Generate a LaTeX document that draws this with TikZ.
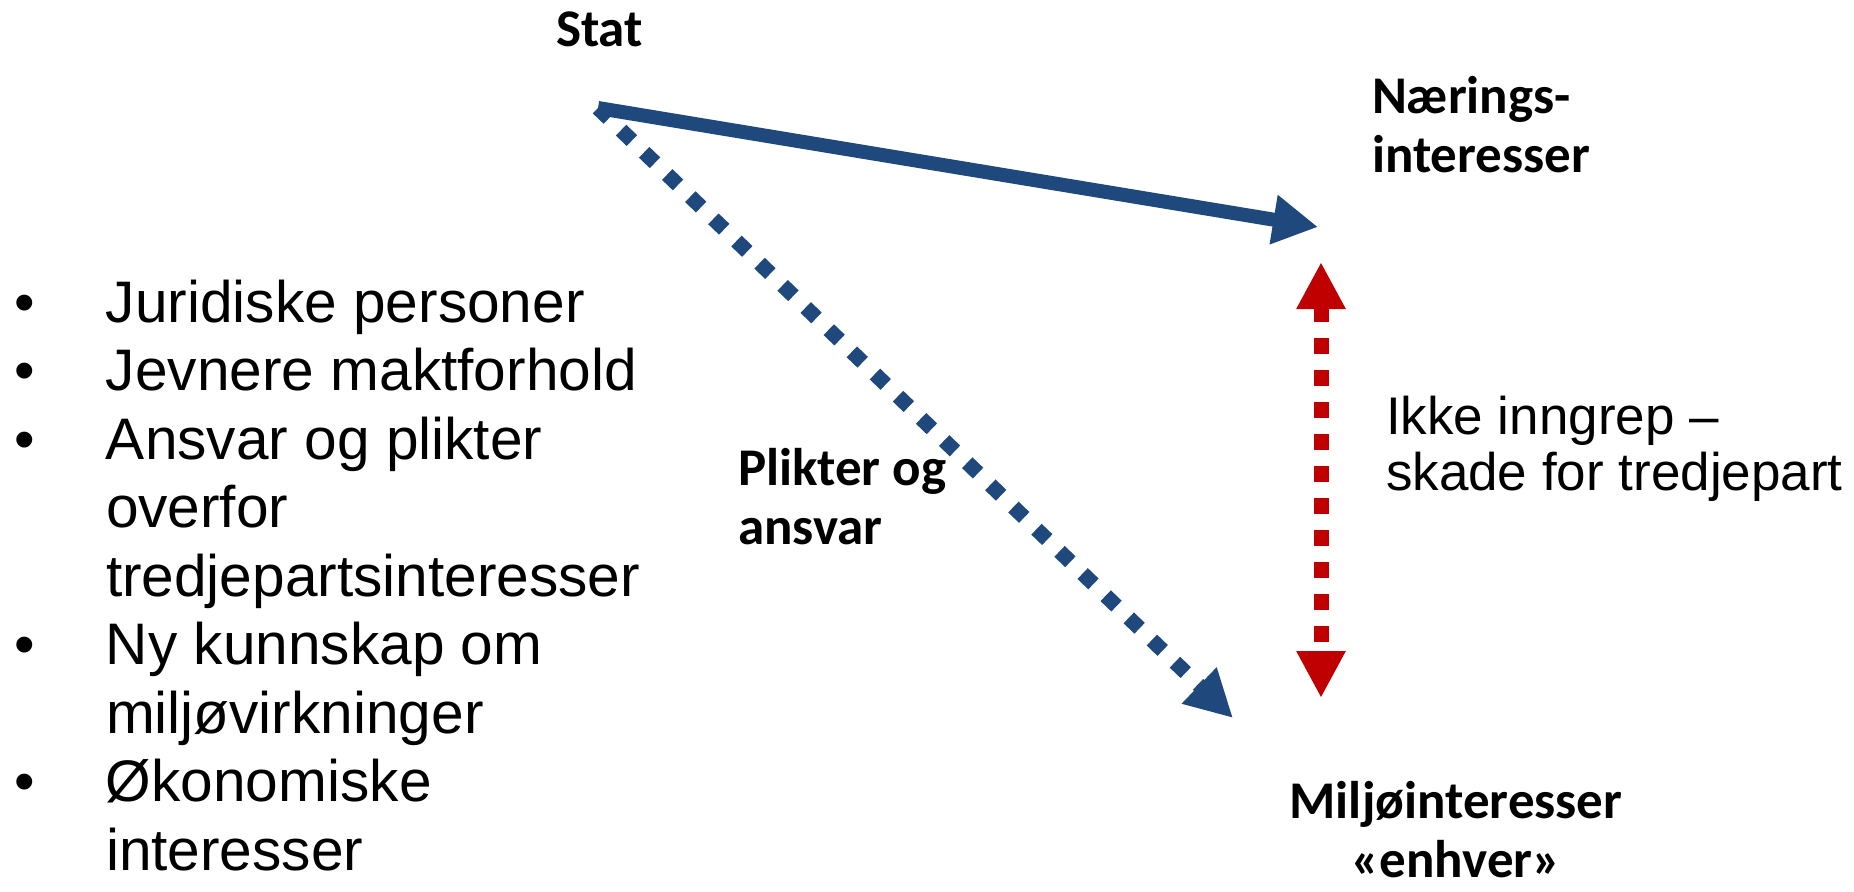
\documentclass[tikz,border=0pt]{standalone}
\usepackage{fontspec}
\setmainfont{Liberation Sans}
\newfontfamily\calibri{Carlito}
\usetikzlibrary{arrows.meta}
\definecolor{darkblue}{RGB}{31,73,125}
\definecolor{darkred}{RGB}{192,0,0}
\tikzset{
  lbl/.style={inner sep=0pt, outer sep=0pt, anchor=base west, font=\calibri\bfseries\fontsize{53}{59}\selectfont},
  plain/.style={inner sep=0pt, outer sep=0pt, anchor=base west},
  solidarrow/.style={draw=darkblue, line width=14pt, -{Triangle[length=45pt,width=47pt]}, darkblue},
  dotarrow/.style={draw=darkblue, line width=15pt, dash pattern=on 15pt off 17pt, -{Triangle[length=47pt,width=47pt]}, darkblue},
  redarrow/.style={draw=darkred, line width=15pt, dash pattern=on 15.5pt off 16.5pt, {Triangle[length=47pt,width=46pt]}-{Triangle[length=47pt,width=46pt]}, darkred}
}
\begin{document}
\begin{tikzpicture}[x=1pt,y=-1pt]
\useasboundingbox (0,0) rectangle (1854,891);
% text nodes
\node[lbl] (stat) at (556,47) {Stat};
\node[lbl] (naering) at (1372,113) {\begin{tabular}[t]{@{}l@{}}Nærings-\\interesser\end{tabular}};
\node[lbl] (plikter) at (738,485) {\begin{tabular}[t]{@{}l@{}}Plikter og\\ansvar\end{tabular}};
\node[lbl, anchor=base] (miljo) at (1456,818) {\begin{tabular}[t]{@{}c@{}}Miljøinteresser\\«enhver»\end{tabular}};
\node[plain, font=\fontsize{53}{56}\selectfont] (ikke) at (1386,434) {\begin{tabular}[t]{@{}l@{}}Ikke inngrep –\\skade for tredjepart\end{tabular}};
\node[plain, font=\fontsize{58.6}{68.5}\selectfont] (list) at (14,322) {\begin{tabular}[t]{@{}l@{}}
\makebox[92pt][l]{•}Juridiske personer\\
\makebox[92pt][l]{•}Jevnere maktforhold\\
\makebox[92pt][l]{•}Ansvar og plikter\\
\hspace*{92pt}overfor\\
\hspace*{92pt}tredjepartsinteresser\\
\makebox[92pt][l]{•}Ny kunnskap om\\
\hspace*{92pt}miljøvirkninger\\
\makebox[92pt][l]{•}Økonomiske\\
\hspace*{92pt}interesser
\end{tabular}};
% connector endpoints
\coordinate (s0) at (598,108);
\coordinate (n0) at (1318,227);
\coordinate (m0) at (1233,718);
\coordinate (r1) at (1321,262);
\coordinate (r2) at (1321,698);
% connectors
\draw[dotarrow] (s0) -- (m0);
\draw[solidarrow] (s0) -- (n0);
\draw[redarrow] (r1) -- (r2);
\end{tikzpicture}
\end{document}
